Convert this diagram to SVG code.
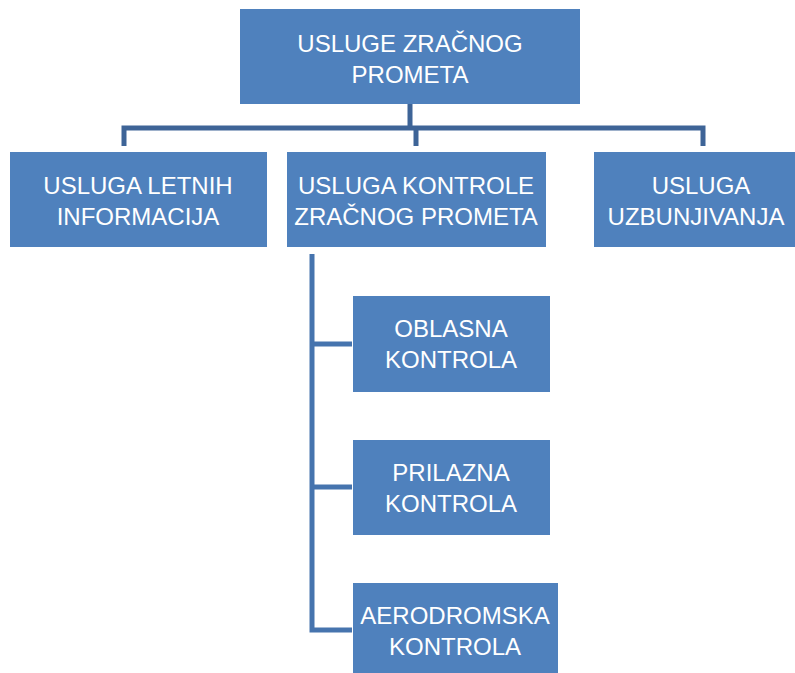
<svg xmlns="http://www.w3.org/2000/svg" width="795" height="673" viewBox="0 0 795 673">
<style>
.box{fill:#4F81BD;}
.t{font-family:"Liberation Sans",Arial,sans-serif;font-size:24px;fill:#ffffff;text-anchor:middle;}
.c{fill:none;stroke-width:5;stroke-linecap:butt;stroke-linejoin:miter;}
</style>
<rect width="795" height="673" fill="#ffffff"/>
<g id="connectors">
<path class="c" stroke="#3E6497" d="M410,104 V128 M124,146 V128 H703 V146 M416,128 V146"/>
<path class="c" stroke="#4674AE" d="M312,254 V630 H352 M312,344 H352 M312,487 H352"/>
</g>
<g id="n-root"><rect class="box" x="240" y="9" width="340" height="95"/>
<text class="t" x="410" y="52">USLUGE ZRAČNOG</text><text class="t" x="410" y="83">PROMETA</text></g>
<g id="n-letnih"><rect class="box" x="10" y="152" width="257" height="95"/>
<text class="t" x="138" y="194">USLUGA LETNIH</text><text class="t" x="138" y="225">INFORMACIJA</text></g>
<g id="n-kontrole"><rect class="box" x="287" y="152" width="259" height="95"/>
<text class="t" x="416" y="194">USLUGA KONTROLE</text><text class="t" x="416" y="225">ZRAČNOG PROMETA</text></g>
<g id="n-uzbunjivanja"><rect class="box" x="594" y="152" width="201" height="95"/>
<text class="t" x="701" y="194">USLUGA</text><text class="t" x="696" y="225">UZBUNJIVANJA</text></g>
<g id="n-oblasna"><rect class="box" x="353" y="296" width="197" height="96"/>
<text class="t" x="451" y="337">OBLASNA</text><text class="t" x="451" y="368">KONTROLA</text></g>
<g id="n-prilazna"><rect class="box" x="353" y="440" width="197" height="95"/>
<text class="t" x="451" y="481">PRILAZNA</text><text class="t" x="451" y="512">KONTROLA</text></g>
<g id="n-aerodromska"><rect class="box" x="353" y="583" width="205" height="90"/>
<text class="t" x="455" y="624">AERODROMSKA</text><text class="t" x="455" y="655">KONTROLA</text></g>
</svg>
